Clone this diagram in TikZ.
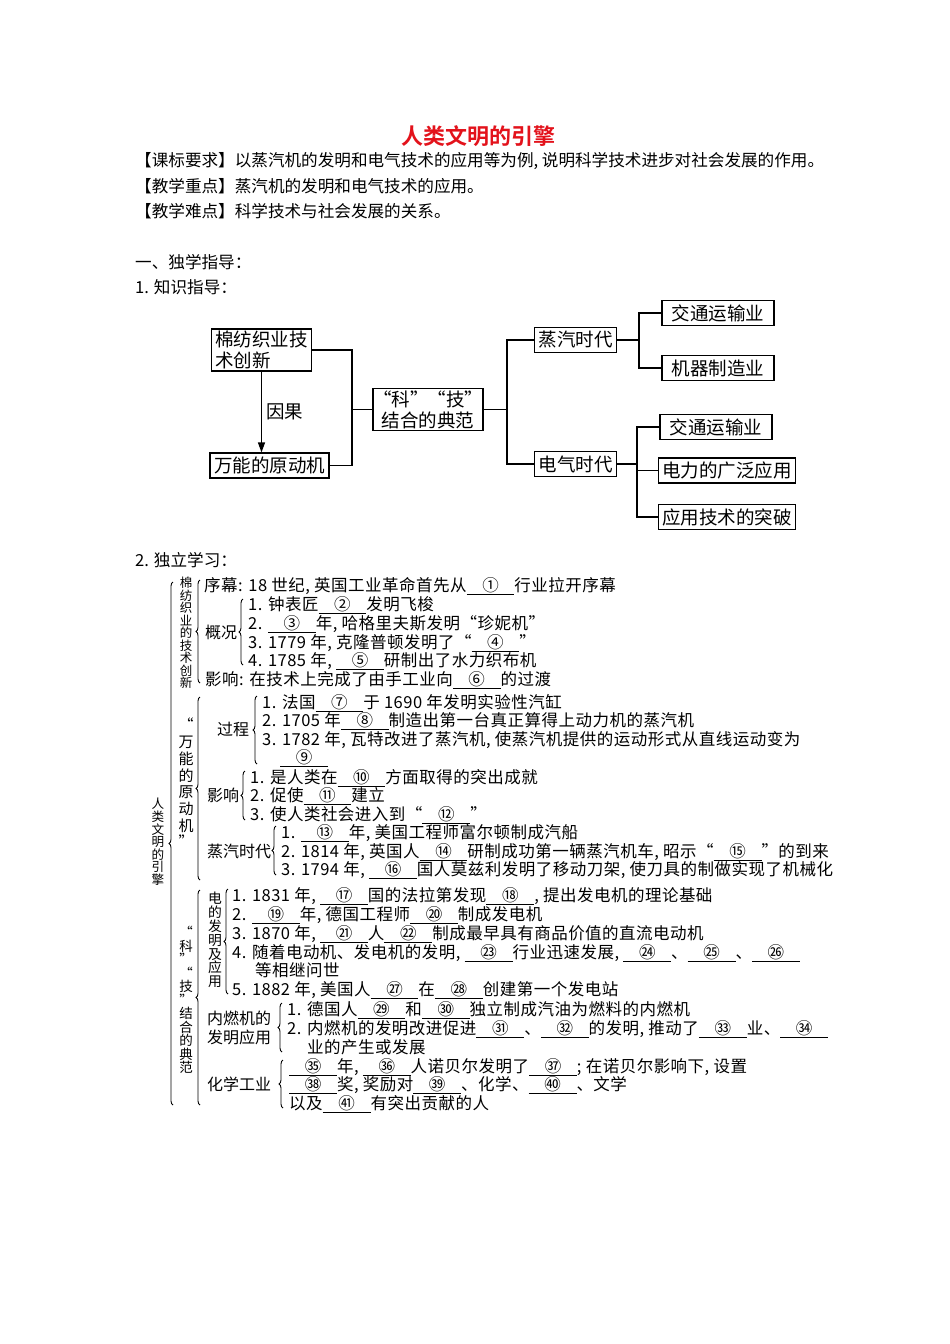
\documentclass[tikz,border=0pt]{standalone}
\usepackage{fontspec}
\usepackage{xcolor}
\usepackage{tikz}
\usetikzlibrary{arrows.meta, positioning, decorations.pathreplacing}
\setmainfont{Noto Sans CJK SC}[BoldFont={Noto Sans CJK SC Bold}]
\newfontfamily\songti{Noto Sans CJK SC}[LetterSpace=3]
\definecolor{biaoti}{HTML}{E3121B}
\newcommand{\kong}[1]{\underline{\makebox[2.9em]{#1}}}
\newcommand{\yin}[1]{\makebox[9pt][r]{“}#1\makebox[9pt][l]{”}}

\begin{document}
\begin{tikzpicture}[x=1pt, y=-1pt,
  zhengwen/.style={anchor=west, inner sep=0pt, font=\fontsize{16.6}{20}\selectfont},
  kuang/.style={draw, line width=1.1pt, inner xsep=4pt, inner ysep=2pt, minimum height=25pt, font=\fontsize{18.5}{21}\selectfont},
  lian/.style={line width=1.1pt},
  hang/.style={anchor=west, inner sep=0pt, text height=14.5pt, text depth=2pt, font=\songti\fontsize{16.5}{18.7}\selectfont},
  biaoqian/.style={anchor=west, inner sep=0pt, align=left, font=\fontsize{16}{19}\selectfont},
  shu/.style={align=center, inner sep=0pt, font=\songti\fontsize{12.5}{12.5}\selectfont},
  kuohao/.style={decorate, decoration={brace, amplitude=4pt}, line width=0.9pt}]
  \fill[white] (0,0) rectangle (950,1344);
  \useasboundingbox (0,0) rectangle (950,1344);

  % 标题
  \node[font=\bfseries\fontsize{22}{22}\selectfont, text=biaoti] (biaoti) at (478,136) {人类文明的引擎};
  \node[zhengwen] (yaoqiu) at (135,161) {【课标要求】以蒸汽机的发明和电气技术的应用等为例, 说明科学技术进步对社会发展的作用。};
  \node[zhengwen] (zhongdian) at (135,186) {【教学重点】蒸汽机的发明和电气技术的应用。};
  \node[zhengwen] (nandian) at (135,211) {【教学难点】科学技术与社会发展的关系。};
  \node[zhengwen] (dulve) at (135,262) {一、独学指导：};
  \node[zhengwen] (zhishi) at (135,287) {1. 知识指导：};

  % 知识结构图
  \node[kuang, align=left] (mianfang) at (261.5,350) {棉纺织业技\\术创新};
  \node[kuang] (wanneng) at (269.5,465.5) {万能的原动机};
  \node[kuang, align=center, minimum width=110pt] (dianfan) at (428,409.5) {\yin{科}\hspace{18pt}\yin{技}\\结合的典范};
  \node[kuang] (zhengqi) at (575.5,340) {蒸汽时代};
  \node[kuang] (dianqi) at (575.5,464) {电气时代};
  \node[kuang, minimum width=112pt] (jiaotong) at (718,313) {交通运输业};
  \node[kuang, minimum width=112pt] (jiqi) at (718,368) {机器制造业};
  \node[kuang, minimum width=112pt] (jiaotong2) at (716,427) {交通运输业};
  \node[kuang] (dianli) at (727,470.5) {电力的广泛应用};
  \node[kuang] (tupo) at (727,517) {应用技术的突破};

  \draw[lian, -{Triangle[length=10pt, width=7pt]}] (mianfang.south) -- (mianfang.south |- wanneng.north)
    node[midway, right=1pt, font=\fontsize{18.5}{21}\selectfont] (yinguo) {因果};
  \coordinate (zuo) at (352,409.5);
  \draw[lian] (mianfang.east) -| (zuo) |- (wanneng.east);
  \draw[lian] (zuo) -- (dianfan.west);
  \coordinate (zhong) at (507,409.5);
  \draw[lian] (dianfan.east) -- (zhong);
  \draw[lian] (zhengqi.west) -| (zhong) |- (dianqi.west);
  \coordinate (you1) at (639,340);
  \draw[lian] (zhengqi.east) -- (you1);
  \draw[lian] (jiaotong.west) -| (you1) |- (jiqi.west);
  \coordinate (you2) at (637,464);
  \draw[lian] (dianqi.east) -- (you2);
  \draw[lian] (jiaotong2.west) -| (you2) |- (tupo.west);
  \draw[lian] (dianli.west) -- (dianli.west -| you2);

  % 独立学习
  \node[zhengwen] (duli) at (135,560) {2. 独立学习：};
  \node[shu, font=\songti\fontsize{12.6}{12.6}\selectfont] (renlei) at (158,842) {人\\类\\文\\明\\的\\引\\擎};
  \draw[kuohao] (173,1105) -- (173,582);

  % 棉纺织业的技术创新
  \node[shu] (mianfang2) at (186,633) {棉\\纺\\织\\业\\的\\技\\术\\创\\新};
  \draw[kuohao] (200,683) -- (200,580);
  \node[hang] (xumu) at (204,585) {序幕: 18 世纪, 英国工业革命首先从\kong{①}行业拉开序幕};
  \node[biaoqian] (gaikuang) at (205,632) {概况};
  \draw[kuohao] (243,665) -- (243,599);
  \node[hang] (gk1) at (248,604) {1. 钟表匠\kong{②}发明飞梭};
  \node[hang] (gk2) at (248,623) {2. \kong{③}年, 哈格里夫斯发明“珍妮机”};
  \node[hang] (gk3) at (248,642) {3. 1779 年, 克隆普顿发明了“\kong{④}”};
  \node[hang] (gk4) at (248,660) {4. 1785 年, \kong{⑤}研制出了水力织布机};
  \node[hang] (yx1) at (205,679) {影响: 在技术上完成了由手工业向\kong{⑥}的过渡};

  % 万能的原动机
  \node[shu, font=\songti\fontsize{15}{16.7}\selectfont] (wanneng2) at (186,783) {“\\万\\能\\的\\原\\动\\机\\”};
  \draw[kuohao] (200,880) -- (200,697);
  \node[biaoqian] (guocheng) at (217,729) {过程};
  \draw[kuohao] (257,764) -- (257,696);
  \node[hang] (gc1) at (262,702) {1. 法国\kong{⑦}于 1690 年发明实验性汽缸};
  \node[hang] (gc2) at (262,720) {2. 1705 年\kong{⑧}制造出第一台真正算得上动力机的蒸汽机};
  \node[hang] (gc3) at (262,739) {3. 1782 年, 瓦特改进了蒸汽机, 使蒸汽机提供的运动形式从直线运动变为};
  \node[hang] (gc4) at (280,757) {\kong{⑨}};
  \node[biaoqian] (yingxiang) at (207,795) {影响};
  \draw[kuohao] (245,820) -- (245,771);
  \node[hang] (yx21) at (250,777) {1. 是人类在\kong{⑩}方面取得的突出成就};
  \node[hang] (yx22) at (250,795) {2. 促使\kong{⑪}建立};
  \node[hang] (yx23) at (250,814) {3. 使人类社会进入到“\kong{⑫}”};
  \node[biaoqian] (zhengqi2) at (207,851) {蒸汽时代};
  \draw[kuohao] (276,875) -- (276,826);
  \node[hang] (zq1) at (281,832) {1. \kong{⑬}年, 美国工程师富尔顿制成汽船};
  \node[hang] (zq2) at (281,851) {2. 1814 年, 英国人\kong{⑭}研制成功第一辆蒸汽机车, 昭示“\kong{⑮}”的到来};
  \node[hang] (zq3) at (281,869) {3. 1794 年, \kong{⑯}国人莫兹利发明了移动刀架, 使刀具的制做实现了机械化};

  % “科”“技”结合的典范
  \node[shu, font=\songti\fontsize{13.5}{13.5}\selectfont] (keji) at (186,1000)
    {“\\科\\”\\“\\技\\”\\结\\合\\的\\典\\范};
  \draw[kuohao] (200,1105) -- (200,890);
  \node[shu, font=\songti\fontsize{13.8}{13.8}\selectfont] (dian) at (215,940) {电\\的\\发\\明\\及\\应\\用};
  \draw[kuohao] (228,994) -- (228,889);
  \node[hang] (dd1) at (232,895) {1. 1831 年, \kong{⑰}国的法拉第发现\kong{⑱}, 提出发电机的理论基础};
  \node[hang] (dd2) at (232,914) {2. \kong{⑲}年, 德国工程师\kong{⑳}制成发电机};
  \node[hang] (dd3) at (232,933) {3. 1870 年, \kong{㉑}人\kong{㉒}制成最早具有商品价值的直流电动机};
  \node[hang] (dd4) at (232,952) {4. 随着电动机、发电机的发明, \kong{㉓}行业迅速发展, \kong{㉔}、\kong{㉕}、\kong{㉖}};
  \node[hang] (dd4b) at (255,970) {等相继问世};
  \node[hang] (dd5) at (232,989) {5. 1882 年, 美国人\kong{㉗}在\kong{㉘}创建第一个发电站};
  \node[biaoqian] (neiran) at (207,1028) {内燃机的\\发明应用};
  \draw[kuohao] (282,1052) -- (282,1003);
  \node[hang] (nr1) at (287,1009) {1. 德国人\kong{㉙}和\kong{㉚}独立制成汽油为燃料的内燃机};
  \node[hang] (nr2) at (287,1028) {2. 内燃机的发明改进促进\kong{㉛}、\kong{㉜}的发明, 推动了\kong{㉝}业、\kong{㉞}};
  \node[hang] (nr2b) at (307,1047) {业的产生或发展};
  \node[biaoqian] (huaxue) at (207,1084) {化学工业};
  \draw[kuohao] (283,1108) -- (283,1060);
  \node[hang] (hx1) at (289,1066) {\kong{㉟}年, \kong{㊱}人诺贝尔发明了\kong{㊲}; 在诺贝尔影响下, 设置};
  \node[hang] (hx2) at (289,1084) {\kong{㊳}奖, 奖励对\kong{㊴}、化学、\kong{㊵}、文学};
  \node[hang] (hx3) at (289,1103) {以及\kong{㊶}有突出贡献的人};
\end{tikzpicture}
\end{document}
